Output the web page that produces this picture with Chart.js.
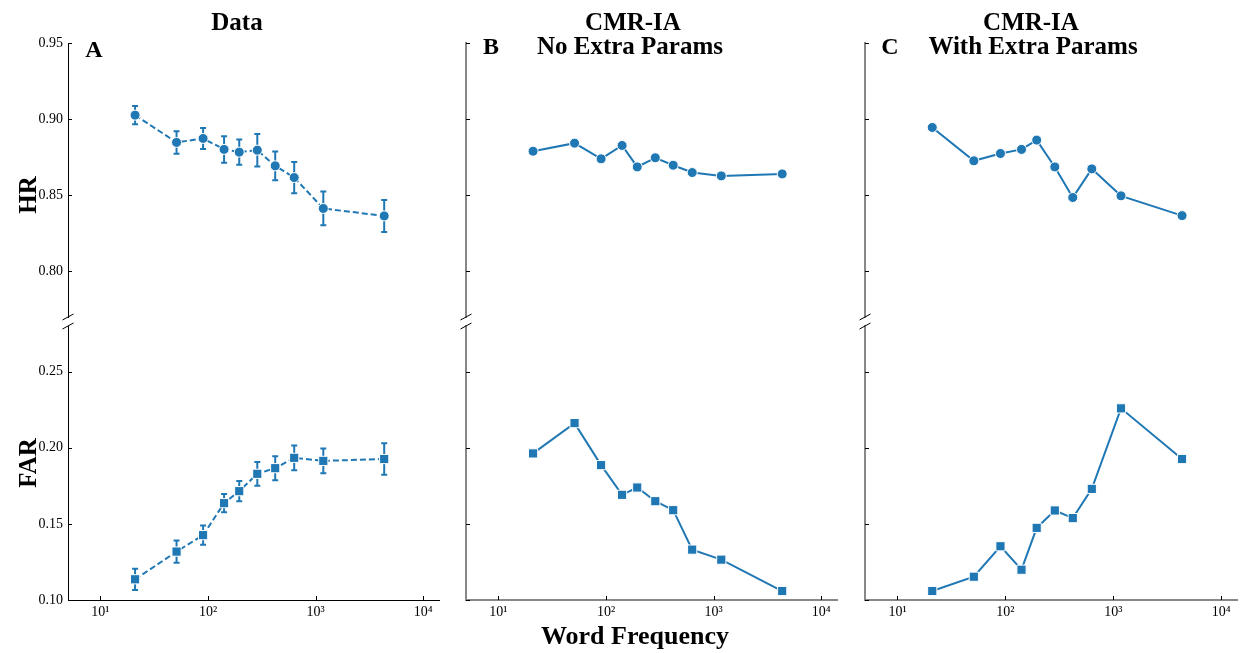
<!DOCTYPE html>
<html>
<head>
<meta charset="utf-8">
<script src="https://cdn.jsdelivr.net/npm/chart.js@4.4.1/dist/chart.umd.min.js"></script>
<style>
  html, body { margin: 0; padding: 0; background: #fff; }
  #fig { position: relative; width: 1243px; height: 653px; overflow: hidden; }
  #fig canvas { position: absolute; }
  #labels { position: absolute; left: 0; top: 0; z-index: 2; pointer-events: none; }
  #labels text { font-family: 'Liberation Serif', 'Times New Roman', serif; font-weight: bold; fill: #000; }
</style>
</head>
<body>
<div id="fig">
  <svg id="labels" width="1243" height="653">
    <text x="237" y="30" text-anchor="middle" font-size="25">Data</text>
    <text x="633" y="30" text-anchor="middle" font-size="25">CMR-IA</text>
    <text x="630" y="54" text-anchor="middle" font-size="25">No Extra Params</text>
    <text x="1031" y="30" text-anchor="middle" font-size="25">CMR-IA</text>
    <text x="1033" y="54" text-anchor="middle" font-size="25">With Extra Params</text>
    <text x="94" y="57" text-anchor="middle" font-size="24">A</text>
    <text x="491" y="54" text-anchor="middle" font-size="24">B</text>
    <text x="890" y="54" text-anchor="middle" font-size="24">C</text>
    <text x="36" y="195" text-anchor="middle" font-size="25">HR</text>
    <text x="36" y="463" text-anchor="middle" font-size="25">FAR</text>
    <text x="635" y="644" text-anchor="middle" font-size="26">Word Frequency</text>
  </svg>
</div>
<script>
// word frequency bins (x, log scale)
const wordFreq = [21, 51, 90, 141, 195, 287, 421, 632, 1178, 4335];

// panel A: data, with error bars
const dataHR = [0.9026, 0.8847, 0.8873, 0.8801, 0.8783, 0.8796, 0.8693, 0.8616, 0.8413, 0.8364];
const dataHRErr = [0.0060, 0.0074, 0.0069, 0.0087, 0.0083, 0.0107, 0.0095, 0.0103, 0.0111, 0.0105];
const dataFAR = [0.1136, 0.1318, 0.1426, 0.1636, 0.1715, 0.1829, 0.1866, 0.1934, 0.1914, 0.1926];
const dataFARErr = [0.0070, 0.0073, 0.0063, 0.0060, 0.0067, 0.0078, 0.0079, 0.0081, 0.0081, 0.0104];

// panel B: CMR-IA, no extra params
const noExtraHR = [0.8789, 0.8842, 0.8739, 0.8827, 0.8686, 0.8746, 0.8697, 0.8649, 0.8627, 0.8640];
const noExtraFAR = [0.1963, 0.2162, 0.1886, 0.1691, 0.1739, 0.1649, 0.1590, 0.1331, 0.1265, 0.1059];

// panel C: CMR-IA, with extra params
const withExtraHR = [0.8945, 0.8726, 0.8774, 0.8801, 0.8862, 0.8686, 0.8485, 0.8673, 0.8496, 0.8366];
const withExtraFAR = [0.1059, 0.1153, 0.1353, 0.1199, 0.1474, 0.1588, 0.1538, 0.1730, 0.2259, 0.1926];

// ticks
const xTicks = [10, 100, 1000, 10000];
const hrTicks = [0.80, 0.85, 0.90, 0.95];
const farTicks = [0.10, 0.15, 0.20, 0.25];

const BLUE = '#1f77b4';
const SUP = { 1: '\u00b9', 2: '\u00b2', 3: '\u00b3', 4: '\u2074' };

Chart.defaults.font.family = "'Liberation Serif', 'Times New Roman', serif";
Chart.defaults.color = '#000';

// y labels are rotated in place
document.querySelectorAll('#labels text').forEach(t => {
  if (t.textContent === 'HR' || t.textContent === 'FAR') {
    t.setAttribute('transform', 'rotate(-90 ' + t.getAttribute('x') + ' ' + t.getAttribute('y') + ')');
  }
});

const panels = [
  { left: 68, right: 439, hr: dataHR, far: dataFAR, hrErr: dataHRErr, farErr: dataFARErr,
    dashed: true, yLabels: true, spine: '#000', spineWidth: 1 },
  { left: 466, right: 837, hr: noExtraHR, far: noExtraFAR,
    dashed: false, yLabels: false, spine: '#888', spineWidth: 2 },
  { left: 865, right: 1237, hr: withExtraHR, far: withExtraFAR,
    dashed: false, yLabels: false, spine: '#888', spineWidth: 2 }
];
const rows = {
  top: { top: 43, bottom: 317, min: 0.77, max: 0.95, ticks: hrTicks, style: 'circle', radius: 5 },
  bottom: { top: 326, bottom: 600, min: 0.10, max: 0.28, ticks: farTicks, style: 'rect', radius: 6.5 }
};

// error bars, inward tick marks and the axis break marks
function decorPlugin(cfg) {
  return {
    id: 'decor',
    beforeDatasetsDraw(chart) {
      if (!cfg.errors) return;
      const ctx = chart.ctx, xs = chart.scales.x, ys = chart.scales.y;
      ctx.save();
      ctx.strokeStyle = BLUE;
      ctx.lineWidth = 2;
      ctx.beginPath();
      wordFreq.forEach((f, i) => {
        const px = xs.getPixelForValue(f);
        const hi = ys.getPixelForValue(cfg.values[i] + cfg.errors[i]);
        const lo = ys.getPixelForValue(cfg.values[i] - cfg.errors[i]);
        ctx.moveTo(px, hi); ctx.lineTo(px, lo);
        ctx.moveTo(px - 3, hi); ctx.lineTo(px + 3, hi);
        ctx.moveTo(px - 3, lo); ctx.lineTo(px + 3, lo);
      });
      ctx.stroke();
      ctx.restore();
    },
    afterDraw(chart) {
      const ctx = chart.ctx, a = chart.chartArea;
      ctx.save();
      ctx.strokeStyle = '#000';
      ctx.lineWidth = 1;
      ctx.beginPath();
      chart.scales.y.ticks.forEach(t => {
        const py = Math.round(chart.scales.y.getPixelForValue(t.value)) + 0.5;
        ctx.moveTo(a.left, py); ctx.lineTo(a.left + 4, py);
      });
      if (cfg.bottom) {
        chart.scales.x.ticks.forEach(t => {
          const px = Math.round(chart.scales.x.getPixelForValue(t.value)) + 0.5;
          ctx.moveTo(px, a.bottom); ctx.lineTo(px, a.bottom - 4);
        });
      }
      const yb = cfg.bottom ? a.top : a.bottom;
      ctx.moveTo(a.left - 5.5, yb + 3); ctx.lineTo(a.left + 5.5, yb - 3);
      ctx.stroke();
      ctx.restore();
    }
  };
}

function makeChart(p, rowKey, values, errors) {
  const r = rows[rowKey];
  const isBottom = rowKey === 'bottom';
  const padL = 50, padR = 10, padT = 10, xH = isBottom ? 40 : 0, padB = isBottom ? 0 : 8;
  const canvas = document.createElement('canvas');
  const w = p.right - p.left + padL + padR;
  const h = r.bottom - r.top + padT + xH + padB;
  canvas.width = w; canvas.height = h;
  canvas.style.left = (p.left - padL) + 'px';
  canvas.style.top = (r.top - padT) + 'px';
  canvas.style.width = w + 'px';
  canvas.style.height = h + 'px';
  document.getElementById('fig').appendChild(canvas);

  new Chart(canvas, {
    type: 'line',
    data: {
      datasets: [{
        data: wordFreq.map((f, i) => ({ x: f, y: values[i] })),
        borderColor: BLUE,
        backgroundColor: BLUE,
        borderWidth: 2,
        borderDash: p.dashed ? [6, 3] : [],
        pointStyle: r.style,
        pointRadius: r.radius,
        pointBorderColor: '#fff',
        pointBorderWidth: 1,
        tension: 0,
        clip: false
      }]
    },
    options: {
      responsive: false,
      animation: false,
      events: [],
      layout: { autoPadding: false, padding: { left: 0, right: padR, top: padT, bottom: padB } },
      plugins: { legend: { display: false }, tooltip: { enabled: false } },
      scales: {
        x: {
          type: 'logarithmic',
          min: 5,
          max: 14000,
          display: isBottom,
          grid: { display: false, drawTicks: false },
          border: { display: true, color: p.spine, width: p.spineWidth },
          ticks: {
            autoSkip: false,
            maxRotation: 0,
            padding: 4,
            font: { size: 14 },
            callback: v => '10' + SUP[Math.round(Math.log10(v))]
          },
          afterBuildTicks: s => { s.ticks = xTicks.map(v => ({ value: v })); },
          afterFit: s => { s.height = xH; s.paddingLeft = 0; s.paddingRight = 0; }
        },
        y: {
          type: 'linear',
          min: r.min,
          max: r.max,
          grid: { display: false, drawTicks: false },
          border: { display: true, color: p.spine, width: p.spineWidth },
          ticks: {
            display: p.yLabels,
            autoSkip: false,
            padding: 5,
            font: { size: 14 },
            callback: v => v.toFixed(2)
          },
          afterBuildTicks: s => { s.ticks = r.ticks.map(v => ({ value: v })); },
          afterFit: s => { s.width = padL; s.paddingTop = 0; s.paddingBottom = 0; }
        }
      }
    },
    plugins: [decorPlugin({ bottom: isBottom, values: values, errors: errors })]
  });
}

panels.forEach(p => {
  makeChart(p, 'top', p.hr, p.hrErr);
  makeChart(p, 'bottom', p.far, p.farErr);
});
</script>
</body>
</html>
